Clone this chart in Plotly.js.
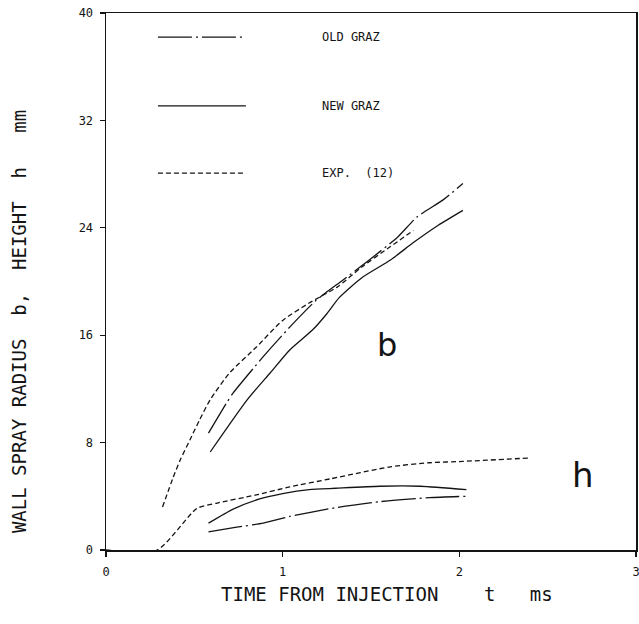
<!DOCTYPE html>
<html>
<head>
<meta charset="utf-8">
<script src="https://cdn.plot.ly/plotly-3.0.1.min.js"></script>
<style>html,body{margin:0;padding:0;background:#fff;}#chart{width:639px;height:624px;}</style>
</head>
<body>
<div id="chart"></div>
<script>
// Wall spray radius b (upper curves)
const bExpT   = [0.32, 0.38, 0.42, 0.475, 0.53, 0.59, 0.70, 0.85, 1.00, 1.15, 1.31, 1.45, 1.61, 1.74];
const bExpV   = [3.2, 5.4, 6.7, 8.2, 9.7, 11.2, 13.2, 15.1, 17.1, 18.4, 19.6, 21.1, 22.6, 23.8];
const bOldT   = [0.58, 0.68, 0.72, 0.89, 1.04, 1.19, 1.34, 1.49, 1.65, 1.76, 1.91, 2.02];
const bOldV   = [8.7, 10.9, 11.7, 14.4, 16.6, 18.6, 20.1, 21.6, 23.3, 24.8, 26.1, 27.3];
const bNewT   = [0.59, 0.80, 0.93, 1.04, 1.17, 1.25, 1.32, 1.45, 1.61, 1.74, 1.87, 2.02];
const bNewV   = [7.3, 11.2, 13.2, 14.9, 16.4, 17.6, 18.8, 20.3, 21.6, 22.9, 24.1, 25.3];
// Height h (lower curves)
const hExpT   = [0.0, 0.29, 0.515, 0.63, 0.85, 1.04, 1.27, 1.61, 1.83, 2.02, 2.39];
const hExpV   = [0.0, 0.0, 3.1, 3.5, 4.1, 4.7, 5.3, 6.2, 6.5, 6.6, 6.85];
const hNewT   = [0.58, 0.72, 0.87, 1.00, 1.15, 1.30, 1.55, 1.78, 2.04];
const hNewV   = [2.0, 3.05, 3.8, 4.2, 4.5, 4.6, 4.75, 4.75, 4.5];
const hOldT   = [0.58, 0.74, 0.89, 1.04, 1.30, 1.55, 1.83, 2.04];
const hOldV   = [1.35, 1.7, 2.0, 2.5, 3.15, 3.6, 3.9, 4.0];

const xTicks = [0, 1, 2, 3];
const yTicks = [0, 8, 16, 24, 32, 40];
const legendNames = ['OLD GRAZ', 'NEW GRAZ', 'EXP.  (12)'];

const ink = '#141414';
const dashExp = '5px,3px';
const dashOld = '34px,4px,2px,4px';

function tr(x, y, dash) {
  return {x: x, y: y, type: 'scatter', mode: 'lines', showlegend: false, hoverinfo: 'skip',
          line: {color: ink, width: 1.3, dash: dash, shape: 'spline', smoothing: 0.6}};
}
const data = [
  tr(bExpT, bExpV, dashExp), tr(bOldT, bOldV, dashOld), tr(bNewT, bNewV, 'solid'),
  tr(hExpT, hExpV, dashExp), tr(hOldT, hOldV, dashOld), tr(hNewT, hNewV, 'solid')
];

const mono = 'DejaVu Sans Mono, Liberation Mono, monospace';
const axCommon = {showgrid: false, zeroline: false, showline: true, linecolor: ink, linewidth: 1.5,
  ticks: 'outside', ticklen: 5, tickwidth: 1.3, tickcolor: ink,
  tickfont: {family: mono, size: 12, color: ink}, ticklabeloverflow: 'allow'};

const legY = [0.955, 0.827, 0.702];
const legDash = [dashOld, 'solid', dashExp];
const shapes = legY.map((y, i) => ({type: 'line', xref: 'paper', yref: 'paper', x0: 0.098, x1: 0.264, y0: y, y1: y,
  line: {color: ink, width: 1.3, dash: legDash[i]}}));
const annotations = legY.map((y, i) => ({xref: 'paper', yref: 'paper', x: 0.404, y: y, xanchor: 'left', yanchor: 'middle',
  text: legendNames[i], showarrow: false, font: {family: mono, size: 12, color: ink}}));
annotations.push({x: 1.59, y: 15.3, xref: 'x', yref: 'y', text: 'b', showarrow: false,
  font: {family: 'DejaVu Sans, sans-serif', size: 32, color: ink}});
annotations.push({x: 2.70, y: 5.6, xref: 'x', yref: 'y', text: 'h', showarrow: false,
  font: {family: 'DejaVu Sans, sans-serif', size: 34, color: ink}});
annotations.push({xref: 'paper', yref: 'paper', x: -0.19, y: 0.425, textangle: -90, showarrow: false,
  text: 'WALL SPRAY RADIUS  b,  HEIGHT  h   mm', font: {family: mono, size: 19, color: ink}});
annotations.push({xref: 'paper', yref: 'paper', x: 0.530, y: -0.106, showarrow: false,
  text: 'TIME FROM INJECTION    t   ms', font: {family: mono, size: 19, color: ink}});

const layout = {
  width: 639, height: 624,
  margin: {l: 106, r: 3, t: 13, b: 74, pad: 0},
  paper_bgcolor: '#fff', plot_bgcolor: '#fff',
  showlegend: false,
  xaxis: Object.assign({}, axCommon, {range: [0, 3], tickvals: xTicks, ticktext: xTicks.map(String), mirror: true, ticklabelstandoff: 5}),
  yaxis: Object.assign({}, axCommon, {range: [0, 40], tickvals: yTicks, ticktext: yTicks.map(String), mirror: true, ticklabelstandoff: 4}),
  xaxis2: {overlaying: 'x', anchor: 'y', side: 'bottom', range: [0, 3], tickvals: xTicks, showticklabels: false,
    ticks: 'inside', ticklen: 5, tickwidth: 1.3, tickcolor: ink, showgrid: false, zeroline: false, showline: false},
  yaxis2: {overlaying: 'y', anchor: 'x', side: 'left', range: [0, 40], tickvals: yTicks, showticklabels: false,
    ticks: 'inside', ticklen: 5, tickwidth: 1.3, tickcolor: ink, showgrid: false, zeroline: false, showline: false},
  shapes: shapes,
  annotations: annotations
};

Plotly.newPlot('chart', data, layout, {displayModeBar: false, staticPlot: true});
</script>
</body>
</html>
